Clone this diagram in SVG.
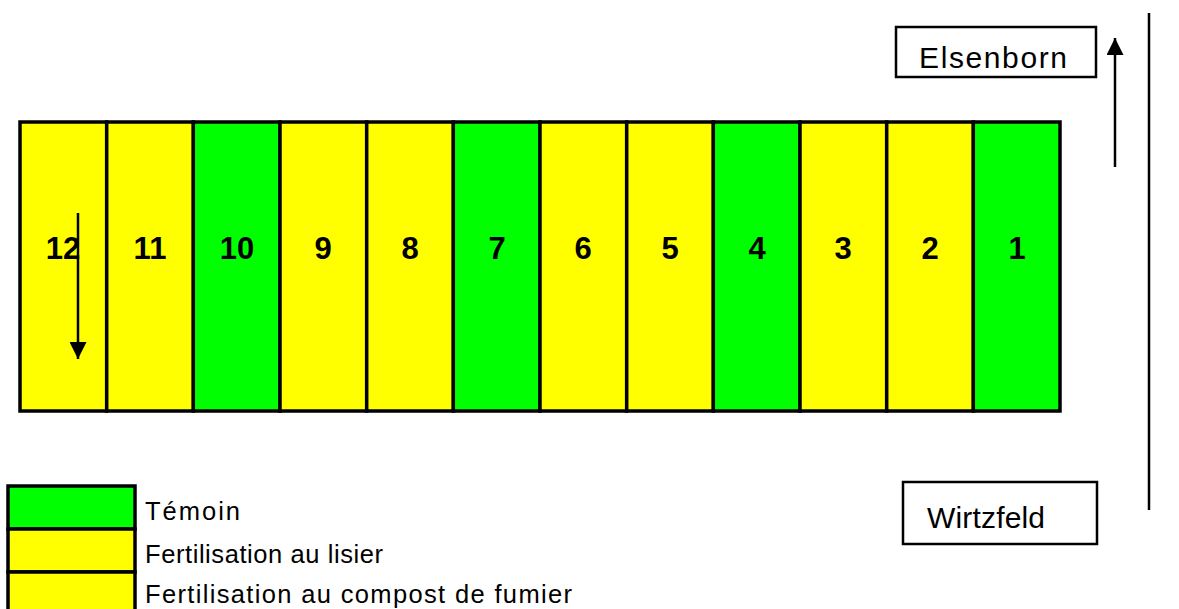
<svg xmlns="http://www.w3.org/2000/svg" width="1179" height="609" viewBox="0 0 1179 609">
<defs>
<style>
.y{fill:#ffff00;stroke:#000;stroke-width:3.5}
.g{fill:#00ff00;stroke:#000;stroke-width:3.5}
.n{font-family:"Liberation Sans",Arial,sans-serif;font-weight:bold;font-size:31px;text-anchor:middle;fill:#000}
.t{font-family:"Liberation Sans",Arial,sans-serif;font-size:25.5px;fill:#000}
.b{font-family:"Liberation Sans",Arial,sans-serif;font-size:30px;fill:#000}
.box{fill:#fff;stroke:#000;stroke-width:2.5}
.ln{stroke:#000;stroke-width:2.5;fill:none}
</style>
<marker id="ah" viewBox="0 0 17 17" refX="17" refY="8.5" markerWidth="17" markerHeight="17" orient="auto" markerUnits="userSpaceOnUse">
<path d="M0,0 L17,8.5 L0,17 z" fill="#000"/>
</marker>
</defs>
<rect width="1179" height="609" fill="#fff"/>
<g id="plots">
<g id="p12"><rect class="y" x="20" y="122" width="86.7" height="289"/><text class="n" x="63" y="259">12</text></g>
<g id="p11"><rect class="y" x="106.7" y="122" width="86.7" height="289"/><text class="n" x="150" y="259">11</text></g>
<g id="p10"><rect class="g" x="193.3" y="122" width="86.7" height="289"/><text class="n" x="237" y="259">10</text></g>
<g id="p9"><rect class="y" x="280" y="122" width="86.7" height="289"/><text class="n" x="323" y="259">9</text></g>
<g id="p8"><rect class="y" x="366.7" y="122" width="86.7" height="289"/><text class="n" x="410" y="259">8</text></g>
<g id="p7"><rect class="g" x="453.3" y="122" width="86.7" height="289"/><text class="n" x="497" y="259">7</text></g>
<g id="p6"><rect class="y" x="540" y="122" width="86.7" height="289"/><text class="n" x="583" y="259">6</text></g>
<g id="p5"><rect class="y" x="626.7" y="122" width="86.7" height="289"/><text class="n" x="670" y="259">5</text></g>
<g id="p4"><rect class="g" x="713.3" y="122" width="86.7" height="289"/><text class="n" x="757" y="259">4</text></g>
<g id="p3"><rect class="y" x="800" y="122" width="86.7" height="289"/><text class="n" x="843" y="259">3</text></g>
<g id="p2"><rect class="y" x="886.7" y="122" width="86.7" height="289"/><text class="n" x="930" y="259">2</text></g>
<g id="p1"><rect class="g" x="973.3" y="122" width="86.7" height="289"/><text class="n" x="1017" y="259">1</text></g>
</g>
<g id="elsenborn"><rect class="box" x="896" y="27" width="200" height="50"/><text class="b" x="919" y="68" textLength="148" lengthAdjust="spacing">Elsenborn</text></g>
<g id="wirtzfeld"><rect class="box" x="903" y="482" width="194" height="62"/><text class="b" x="927" y="528" textLength="118" lengthAdjust="spacing">Wirtzfeld</text></g>
<g id="legend">
<rect class="g" x="8" y="486" width="127" height="43"/>
<rect class="y" x="8" y="529" width="127" height="43"/>
<rect class="y" x="8" y="572" width="127" height="44"/>
<text class="t" x="145" y="520" textLength="95" lengthAdjust="spacing">Témoin</text>
<text class="t" x="145" y="563" textLength="238" lengthAdjust="spacing">Fertilisation au lisier</text>
<text class="t" x="145" y="603" textLength="427" lengthAdjust="spacing">Fertilisation au compost de fumier</text>
</g>
<g id="connectors">
<line class="ln" x1="78" y1="213" x2="78" y2="359" marker-end="url(#ah)"/>
<line class="ln" x1="1115" y1="167" x2="1115" y2="38" marker-end="url(#ah)"/>
<line class="ln" x1="1149" y1="13" x2="1149" y2="510"/>
</g>
</svg>
